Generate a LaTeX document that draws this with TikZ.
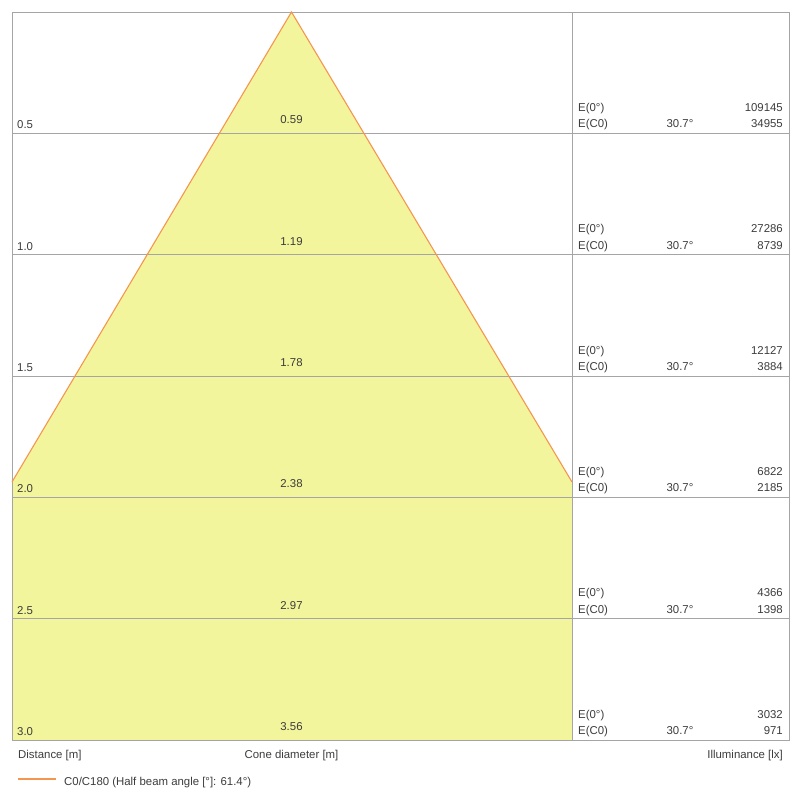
\documentclass[tikz,border=0pt]{standalone}
\usepackage{fontspec}
\setmainfont{Liberation Sans}
\definecolor{conefill}{RGB}{243,245,156}
\definecolor{conedge}{RGB}{245,150,80}
\definecolor{gridc}{RGB}{165,165,165}
\definecolor{txt}{RGB}{60,60,60}
\tikzset{
  lbl/.style={inner sep=0pt, text=txt, font=\fontsize{11.4}{13}\selectfont},
  gridline/.style={draw=gridc, line width=0.9pt},
  coneline/.style={draw=conedge, line width=1.1pt}
}
\begin{document}
\begin{tikzpicture}[x=1pt,y=-1pt]
\useasboundingbox (0,0) rectangle (800,800);
% cone fill
\fill[conefill] (291.5,12) -- (12,482) -- (12,740) -- (572,740) -- (572,482) -- cycle;
% grid
\foreach \i in {1,...,5} {
  \draw[gridline] (12,{12+121.333*\i}) -- (789,{12+121.333*\i});
}
\draw[gridline] (12,12) rectangle (789,740);
\draw[gridline] (572,12) -- (572,740);
% cone edges
\coordinate (apex) at (291.5,12);
\coordinate (lft) at (12,482);
\coordinate (rgt) at (572,482);
\draw[coneline] (lft) -- (apex) -- (rgt);
% row labels
\foreach \i/\d/\c/\ea/\eb in {1/0.5/0.59/109145/34955, 2/1.0/1.19/27286/8739, 3/1.5/1.78/12127/3884, 4/2.0/2.38/6822/2185, 5/2.5/2.97/4366/1398, 6/3.0/3.56/3032/971} {
  \pgfmathsetmacro{\yl}{12+121.333*\i}
  \node[lbl, anchor=base west] (dist\i) at (17,\yl-4.5) {\d};
  \node[lbl, anchor=base] (cone\i) at (291.5,\yl-9.5) {\c};
  \node[lbl, anchor=base west] (ezero\i) at (578,\yl-22) {E(0°)};
  \node[lbl, anchor=base east] (ezerov\i) at (783,\yl-22) {\ea};
  \node[lbl, anchor=base west] (ecz\i) at (578,\yl-5.5) {E(C0)};
  \node[lbl, anchor=base] (ang\i) at (680,\yl-5.5) {30.7°};
  \node[lbl, anchor=base east] (eczv\i) at (783,\yl-5.5) {\eb};
}
% axis captions
\node[lbl, anchor=base west] (xdist) at (18,758) {Distance [m]};
\node[lbl, anchor=base] (xcone) at (291.5,758) {Cone diameter [m]};
\node[lbl, anchor=base east] (xillum) at (783,758) {Illuminance [lx]};
% legend
\coordinate (lega) at (18,779);
\coordinate (legb) at (56,779);
\draw[coneline] (lega) -- (legb);
\node[lbl, anchor=base west] (legtext) at (64,785) {C0/C180 (Half beam angle [°]: 61.4°)};
\end{tikzpicture}
\end{document}
